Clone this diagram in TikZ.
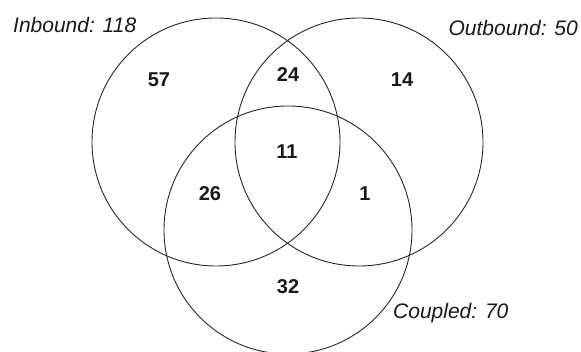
\documentclass[tikz,border=0pt]{standalone}
\usepackage{fontspec}
\setmainfont{Liberation Sans}
\begin{document}
\begin{tikzpicture}[x=1pt,y=-1pt,
  ring/.style={draw=black!85, line width=0.9pt},
  setlabel/.style={font=\fontsize{21}{24}\selectfont\itshape, text=black!90, inner sep=0pt},
  count/.style={font=\fontsize{20}{24}\selectfont\bfseries, text=black!90, inner sep=0pt}]
\useasboundingbox (0,0) rectangle (581,352);
\coordinate (cL) at (216,142);
\coordinate (cR) at (359,142);
\coordinate (cB) at (288,230);
\draw[ring] (cL) circle (124);
\draw[ring] (cR) circle (124);
\draw[ring] (cB) circle (124);
\node[setlabel, anchor=west] (inb) at (13,25) {Inbound: 118};
\node[setlabel, anchor=east] (outb) at (578,28) {Outbound: 50};
\node[setlabel, anchor=west] (coup) at (393,313) {Coupled: 70};
\node[count] (n57) at (159,80) {57};
\node[count] (n24) at (288,75) {24};
\node[count] (n14) at (402,80) {14};
\node[count] (n11) at (287,152) {11};
\node[count] (n26) at (210,194) {26};
\node[count] (n1) at (365,194) {1};
\node[count] (n32) at (288,287) {32};
\end{tikzpicture}
\end{document}
